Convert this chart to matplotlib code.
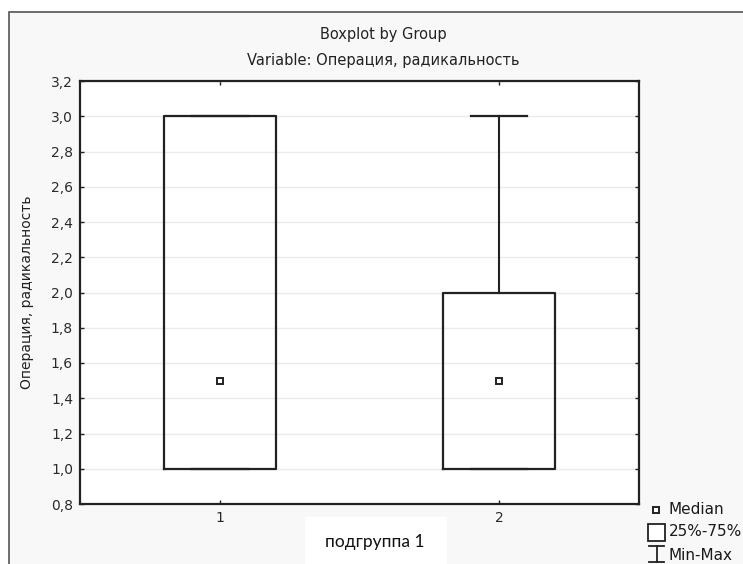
import matplotlib
matplotlib.use("Agg")
import matplotlib.pyplot as plt
from matplotlib.lines import Line2D
from matplotlib.patches import Rectangle
from matplotlib.ticker import FuncFormatter

groups = [1, 2]
q1 = [1.0, 1.0]
q3 = [3.0, 2.0]
medians = [1.5, 1.5]
mins = [1.0, 1.0]
maxs = [3.0, 3.0]

title = "Boxplot by Group"
subtitle = "Variable: Операция, радикальность"
ylabel = "Операция, радикальность"
xlabel = "подгруппа 1"
legend_labels = ["Median", "25%-75%", "Min-Max"]

W, H = 743, 564
plt.rcParams["font.family"] = "DejaVu Sans"
fig = plt.figure(figsize=(W / 100, H / 100), dpi=100, facecolor="white")

def fx(px):
    return px / W

def fy(py):
    return 1 - py / H

ink = "#222222"

# panel frame behind everything
fig.add_artist(Rectangle((fx(9), -0.02), 1.0, fy(12) + 0.02, transform=fig.transFigure,
                         facecolor="#f8f8f8", edgecolor="#555555", lw=1.2, zorder=0))

ax = fig.add_axes([fx(80), fy(504), fx(639) - fx(80), fy(81) - fy(504)])
ax.set_facecolor("white")

stats = []
for g, a, b, m, lo, hi in zip(groups, q1, q3, medians, mins, maxs):
    stats.append(dict(label=str(g), q1=a, q3=b, med=m, whislo=lo, whishi=hi, fliers=[]))

ax.bxp(stats, positions=groups, widths=0.4, capwidths=0.2, showfliers=False,
       boxprops=dict(color=ink, lw=1.6),
       whiskerprops=dict(color=ink, lw=1.5),
       capprops=dict(color=ink, lw=1.6),
       medianprops=dict(lw=0))
ax.plot(groups, medians, ls="none", marker="s", ms=5, mfc="white", mec=ink, mew=1.4, zorder=5)

ax.set_xlim(0.5, 2.5)
ax.set_ylim(0.8, 3.2)
ax.set_xticks(groups)
ax.set_xticklabels([str(g) for g in groups])
ax.set_yticks([0.8 + 0.2 * i for i in range(13)])
ax.yaxis.set_major_formatter(FuncFormatter(lambda v, p: f"{v:.1f}".replace(".", ",")))
ax.grid(axis="y", color="#ebebeb", lw=1)
ax.set_axisbelow(True)
ax.tick_params(direction="in", length=3, width=1, color=ink, labelsize=10,
               top=True, right=True, pad=5, labelcolor="#2a2a2a")
for s in ax.spines.values():
    s.set_color(ink)
    s.set_linewidth(1.6)

fig.text(fx(383), fy(35), title, ha="center", va="center", fontsize=10.5, color="#222222")
fig.text(fx(383), fy(61), subtitle, ha="center", va="center", fontsize=10.5, color="#222222")
fig.text(fx(27), fy(292), ylabel, ha="center", va="center", rotation=90, fontsize=10, color="#222222")

# x label sits in its own white box
fig.add_artist(Rectangle((fx(305), 0), fx(447) - fx(305), fy(517), transform=fig.transFigure,
                         facecolor="white", edgecolor="none", zorder=1))
fig.text(fx(375), fy(542), xlabel, ha="center", va="center", fontsize=12.5, family="Lato",
         color="#111111", zorder=2)

# key
tf = fig.transFigure
fig.add_artist(Line2D([fx(656)], [fy(510)], transform=tf, ls="none", marker="s", ms=4.2,
                      mfc="white", mec=ink, mew=1.4))
fig.add_artist(Rectangle((fx(648), fy(541)), fx(665) - fx(648), fy(524) - fy(541), transform=tf,
                         facecolor="white", edgecolor=ink, lw=1.3))
fig.add_artist(Line2D([fx(656.5), fx(656.5)], [fy(546), fy(562)], transform=tf, color=ink, lw=1.3))
fig.add_artist(Line2D([fx(649), fx(664)], [fy(546), fy(546)], transform=tf, color=ink, lw=1.3))
fig.add_artist(Line2D([fx(649), fx(664)], [fy(562), fy(562)], transform=tf, color=ink, lw=1.3))
for lab, yy in zip(legend_labels, [510, 532, 555]):
    fig.text(fx(669), fy(yy), lab, ha="left", va="center", fontsize=11, color="#1a1a1a")

fig.savefig("out.png", dpi=100, facecolor=fig.get_facecolor())
